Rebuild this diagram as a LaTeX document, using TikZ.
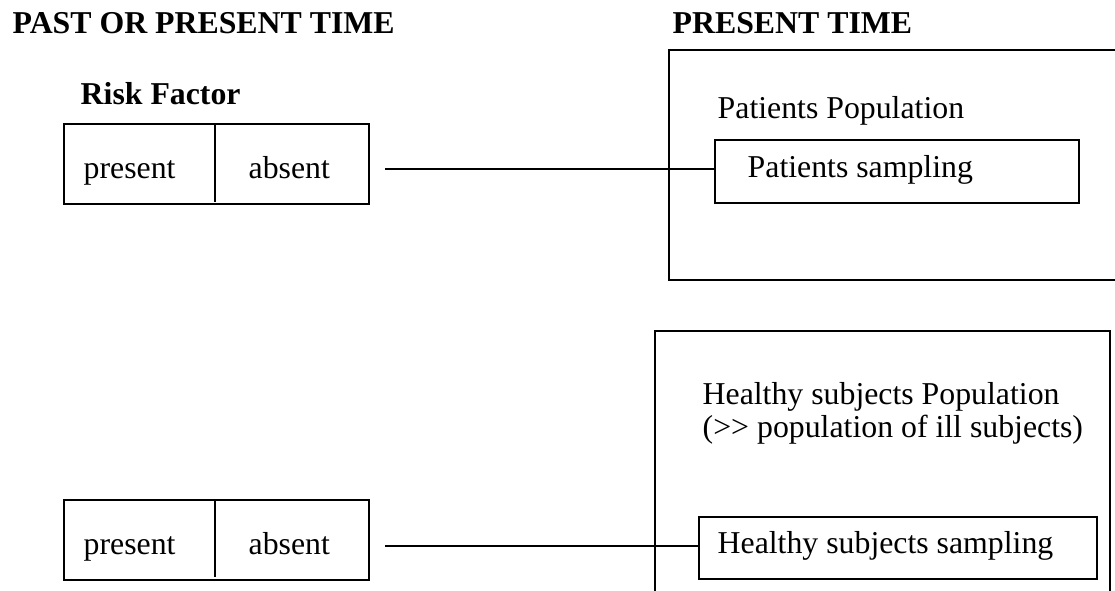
\documentclass[tikz,border=0pt]{standalone}
\usepackage{fontspec}
\setmainfont{Liberation Serif}
\tikzset{
  every node/.style={font=\fontsize{15.9}{19}\selectfont, inner sep=0pt},
  txt/.style={anchor=base west},
  head/.style={anchor=base west, font=\fontsize{15.9}{19}\selectfont\bfseries},
  factorbox/.style={draw, minimum width=152.5pt, minimum height=40pt},
}
\begin{document}
\begin{tikzpicture}[x=0.5pt, y=-0.5pt, line width=0.7pt]
      \clip (0,0) rectangle (1115,590);
      \draw
        (12, 33) node[head] (pastT){PAST OR PRESENT TIME}
        (672, 33) node[head] (presT){PRESENT TIME}
        (80, 104) node[head] (risk){Risk Factor}
        (216.5, 164) node[factorbox] (rf1){}
        (216.5, 540) node[factorbox] (rf2){}
        (83, 178) node[txt] (pres1){present}
        (248, 178) node[txt] (abs1){absent}
        (83, 554) node[txt] (pres2){present}
        (248, 554) node[txt] (abs2){absent}
        (899.5, 165) node[draw, minimum width=230.5pt, minimum height=115pt] (popP){}
        (882.5, 485.5) node[draw, minimum width=227.5pt, minimum height=154.5pt] (popH){}
        (717, 118) node[txt] (popPtxt){Patients Population}
        (702, 404) node[txt] (popHtxt){Healthy subjects Population}
        (702, 437) node[txt] (popHtxt2){(>{}> population of ill subjects)}
        (897, 171.5) node[draw, minimum width=182pt, minimum height=31.5pt] (ps){}
        (898, 548) node[draw, minimum width=199pt, minimum height=31pt] (hs){}
        (747, 177) node[txt] (pstxt){Patients sampling}
        (717, 553) node[txt] (hstxt){Healthy subjects sampling};
      % present | absent dividers
      \draw (215, 123) -- (215, 202);
      \draw (215, 500) -- (215, 577);
      \coordinate (c1) at (385, 169);
      \coordinate (c2) at (385, 546);
      \draw (c1) -- (c1 -| ps.west);
      \draw (c2) -- (c2 -| hs.west);
    \end{tikzpicture}
\end{document}
